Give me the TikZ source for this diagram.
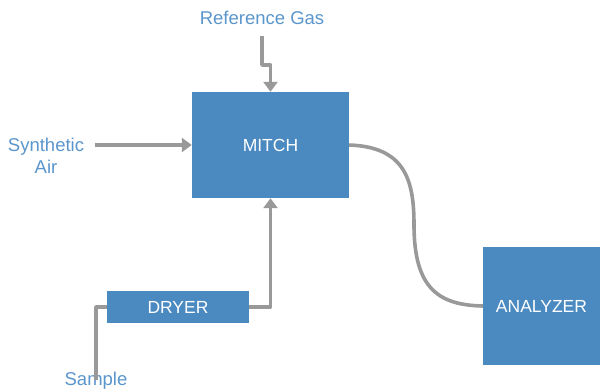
\documentclass[tikz,border=0pt]{standalone}
\usepackage{fontspec}
\setmainfont{Liberation Sans}
\usetikzlibrary{arrows.meta}

\definecolor{boxblue}{HTML}{4B8AC1}
\definecolor{labelblue}{HTML}{5A95CC}
\definecolor{pipegray}{HTML}{999999}

\tikzset{
    unit/.style={fill=boxblue, text=white, inner sep=0pt, font=\fontsize{17.5}{21}\selectfont},
    label/.style={text=labelblue, inner sep=0pt, align=center, font=\fontsize{18.5}{22}\selectfont},
    pipe/.style={pipegray, line width=3.6pt, line join=round},
    flow/.style={pipe, -{Triangle[width=14pt,length=10pt]}}
}

\begin{document}
\begin{tikzpicture}[x=1pt, y=-1pt]
    \useasboundingbox (0,0) rectangle (604,391);

    % Units
    \node[unit, minimum width=157pt, minimum height=106pt] (mitch) at (270.5,145) {MITCH};
    \node[unit, minimum width=117pt, minimum height=118pt] (analyzer) at (541.5,306) {ANALYZER};
    \node[unit, minimum width=142pt, minimum height=32pt] (dryer) at (178,307) {DRYER};

    % Labels
    \node[label] (refgas) at (262,18) {Reference Gas};
    \node[label] (synair) at (46,156) {Synthetic\\Air};
    \node[label] (sample) at (96,381) {Sample};

    % Gas lines
    \coordinate (refbend) at (262,65);
    \draw[flow] ([yshift=-11pt]refgas.south) -- (refbend) -| (mitch.north);
    \draw[flow] ([xshift=11pt]synair.east |- mitch.west) -- (mitch.west);
    \draw[pipe] ([yshift=-8pt]sample.north) -- (sample.north |- dryer.west) -- (dryer.west);
    \draw[flow] (dryer.east) -| (mitch.south);
    \draw[pipe] (mitch.east) .. controls (405,147) and (414,180) .. (414,225)
        .. controls (414,290) and (440,305) .. (analyzer.west);
\end{tikzpicture}
\end{document}
